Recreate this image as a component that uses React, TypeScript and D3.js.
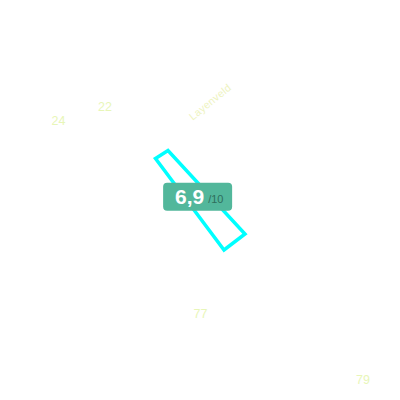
import React from "react";
import * as d3 from "d3";

// Map-like data (local planar coordinates in metres)
const houseNumbers = ["24", "22", "77", "79"];
const houseX = [58.5, 105, 200.5, 363];
const houseY = [124.5, 110.5, 318, 384];

const streetName = "Layenveld";
const streetPos = [210, 102];
const streetAngle = -39;

const fieldX = [155.5, 168, 245, 224];
const fieldY = [158.5, 150.5, 234, 250];

const scoreValue = "6,9";
const scoreMax = "/10";

export default function App() {
  const W = 400;
  const H = 400;
  const x = d3.scaleLinear().domain([0, 400]).range([0, W]);
  const y = d3.scaleLinear().domain([0, 400]).range([0, H]);
  const pts: [number, number][] = fieldX.map((v, i) => [x(v), y(fieldY[i])]);
  const line = d3.line().curve(d3.curveLinearClosed);
  const cx = d3.mean(pts, (p) => p[0]) as number;
  const cy = d3.mean(pts, (p) => p[1]) as number;
  return (
    <svg
      width={W}
      height={H}
      style={{ position: "absolute", left: 0, top: 0, background: "#ffffff" }}
      fontFamily="'Liberation Sans', Arial, sans-serif"
    >
      <rect width={W} height={H} fill="#ffffff" />
      {houseNumbers.map((t, i) => (
        <text
          key={t}
          x={x(houseX[i])}
          y={y(houseY[i])}
          textAnchor="middle"
          fontSize={12.5}
          fill="#e8f6b8"
        >
          {t}
        </text>
      ))}
      <text
        transform={`translate(${x(streetPos[0])},${y(streetPos[1])}) rotate(${streetAngle})`}
        textAnchor="middle"
        dy="0.35em"
        fontSize={10.5}
        letterSpacing={0.3}
        fill="#eef3c0"
      >
        {streetName}
      </text>
      <path d={line(pts) || ""} fill="none" stroke="#00ffff" strokeWidth={3.5} strokeLinejoin="miter" />
      <g transform={`translate(${cx},${cy - 1.5})`}>
        <rect x={-35} y={-14} width={69} height={28} rx={4} fill="#52b79b" />
        <text x={-8.5} y={7.5} textAnchor="middle" fontSize={21} fontWeight="bold" fill="#ffffff">
          {scoreValue}
        </text>
        <text x={10} y={6.5} fontSize={11} fill="#2f6e5c">
          {scoreMax}
        </text>
      </g>
    </svg>
  );
}
